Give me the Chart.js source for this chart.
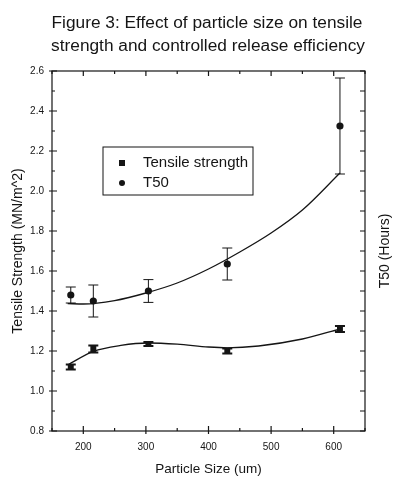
<!DOCTYPE html>
<html>
<head>
<meta charset="utf-8">
<script src="https://cdn.jsdelivr.net/npm/chart.js@4/dist/chart.umd.min.js"></script>
<style>
  html, body { margin: 0; padding: 0; background: #fff; }
  #wrap { width: 396px; height: 480px; }
</style>
</head>
<body>
<div id="wrap"><canvas id="chart" width="396" height="480"></canvas></div>
<script>
// data
const titleLines = ['Figure 3: Effect of particle size on tensile', 'strength and controlled release efficiency'];
const particleSize = [180, 216, 304, 430, 610];
const tensile = [1.12, 1.21, 1.235, 1.20, 1.31];
const tensileErr = [0.012, 0.018, 0.01, 0.012, 0.015];
const t50 = [1.48, 1.45, 1.50, 1.635, 2.325];
const t50Err = [0.04, 0.08, 0.057, 0.08, 0.24];

// fitted curves as drawn in the figure
const tensileFitX = [175, 216, 260, 304, 350, 400, 430, 480, 550, 610];
const tensileFitY = [1.13, 1.198, 1.228, 1.24, 1.234, 1.22, 1.216, 1.225, 1.26, 1.31];
const t50FitX = [175, 200, 250, 300, 350, 400, 450, 500, 550, 610];
const t50FitY = [1.437, 1.435, 1.452, 1.49, 1.54, 1.61, 1.695, 1.79, 1.905, 2.09];

const xTickLabels = [200, 300, 400, 500, 600];
const yTickLabels = ['0.8', '1.0', '1.2', '1.4', '1.6', '1.8', '2.0', '2.2', '2.4', '2.6'];

const INK = '#151515';
const FONT = '"Liberation Sans", Arial, sans-serif';

const toPts = (xs, ys) => xs.map((x, i) => ({ x: x, y: ys[i] }));

// title, frame, inward ticks, right axis title
const framePlugin = {
    id: 'frame',
    afterDraw(chart) {
        const { ctx, chartArea: a } = chart;
        const sx = chart.scales.x, sy = chart.scales.y, sy2 = chart.scales.y2;
        ctx.save();
        ctx.strokeStyle = INK;
        ctx.fillStyle = INK;
        ctx.lineWidth = 1.2;
        ctx.strokeRect(a.left, a.top, a.right - a.left, a.bottom - a.top);

        ctx.beginPath();
        sx.ticks.forEach(t => {
            const px = sx.getPixelForValue(t.value);
            const major = xTickLabels.includes(t.value);
            ctx.moveTo(px, a.bottom + (major ? 3 : 0));
            ctx.lineTo(px, a.bottom - (major ? 5 : 3));
            ctx.moveTo(px, a.top);
            ctx.lineTo(px, a.top + (major ? 5 : 3));
        });
        sy.ticks.forEach(t => {
            const py = sy.getPixelForValue(t.value);
            const major = yTickLabels.includes(t.value.toFixed(1));
            ctx.moveTo(a.left - (major ? 3 : 0), py);
            ctx.lineTo(a.left + (major ? 5 : 3), py);
        });
        sy2.ticks.forEach(t => {
            const py = sy2.getPixelForValue(t.value);
            ctx.moveTo(a.right, py);
            ctx.lineTo(a.right - 5, py);
        });
        ctx.stroke();

        // title
        ctx.font = '17.3px ' + FONT;
        ctx.textAlign = 'center';
        ctx.textBaseline = 'alphabetic';
        ctx.fillText(titleLines[0], 207, 28);
        ctx.fillText(titleLines[1], 208, 51);

        // right axis title, reads bottom to top
        ctx.font = '14px ' + FONT;
        ctx.translate(385, (a.top + a.bottom) / 2);
        ctx.rotate(-Math.PI / 2);
        ctx.textBaseline = 'middle';
        ctx.fillText('T50 (Hours)', 0, 0);
        ctx.restore();
    }
};

// vertical error bars with caps
const errorBarPlugin = {
    id: 'errorBars',
    afterDatasetsDraw(chart) {
        const { ctx } = chart;
        const sx = chart.scales.x, sy = chart.scales.y;
        const draw = (vals, errs, lw) => {
            ctx.lineWidth = lw;
            ctx.beginPath();
            vals.forEach((v, i) => {
                const px = sx.getPixelForValue(particleSize[i]);
                const y1 = sy.getPixelForValue(v - errs[i]);
                const y2 = sy.getPixelForValue(v + errs[i]);
                ctx.moveTo(px, y1);
                ctx.lineTo(px, y2);
                ctx.moveTo(px - 5, y1);
                ctx.lineTo(px + 5, y1);
                ctx.moveTo(px - 5, y2);
                ctx.lineTo(px + 5, y2);
            });
            ctx.stroke();
        };
        ctx.save();
        ctx.strokeStyle = INK;
        draw(t50, t50Err, 1);
        draw(tensile, tensileErr, 2);
        ctx.restore();
    }
};

// boxed legend inside the plot
const boxLegendPlugin = {
    id: 'boxLegend',
    afterDraw(chart) {
        const { ctx } = chart;
        const items = chart.data.datasets.filter(d => !d.showLine);
        ctx.save();
        ctx.strokeStyle = INK;
        ctx.fillStyle = INK;
        ctx.lineWidth = 1;
        ctx.strokeRect(103, 147, 150, 48);
        ctx.font = '15px ' + FONT;
        ctx.textBaseline = 'middle';
        items.forEach((d, i) => {
            const y = 163 + i * 20;
            if (d.pointStyle === 'rect') {
                ctx.fillRect(119, y - 3, 6, 6);
            } else {
                ctx.beginPath();
                ctx.arc(122, y, 3, 0, Math.PI * 2);
                ctx.fill();
            }
            ctx.fillText(d.label, 143, y);
        });
        ctx.restore();
    }
};

new Chart(document.getElementById('chart'), {
    type: 'scatter',
    data: {
        datasets: [
            {
                label: 'Tensile fit',
                data: toPts(tensileFitX, tensileFitY),
                showLine: true,
                borderColor: INK,
                borderWidth: 1.3,
                pointRadius: 0,
                cubicInterpolationMode: 'monotone'
            },
            {
                label: 'T50 fit',
                data: toPts(t50FitX, t50FitY),
                showLine: true,
                borderColor: INK,
                borderWidth: 1.3,
                pointRadius: 0,
                cubicInterpolationMode: 'monotone'
            },
            {
                label: 'Tensile strength',
                data: toPts(particleSize, tensile),
                pointStyle: 'rect',
                pointRadius: 4.2,
                backgroundColor: INK,
                borderColor: INK,
                borderWidth: 0
            },
            {
                label: 'T50',
                data: toPts(particleSize, t50),
                pointStyle: 'circle',
                pointRadius: 3.6,
                backgroundColor: INK,
                borderColor: INK,
                borderWidth: 0
            }
        ]
    },
    options: {
        responsive: false,
        animation: false,
        layout: { padding: { top: 71, left: 0, right: 0, bottom: 0 } },
        plugins: {
            legend: { display: false },
            title: { display: false },
            tooltip: { enabled: false }
        },
        scales: {
            x: {
                type: 'linear',
                min: 150,
                max: 650,
                afterFit(s) { s.height = 49; },
                grid: { display: false, drawTicks: false },
                border: { display: false },
                ticks: {
                    stepSize: 50,
                    autoSkip: false,
                    maxRotation: 0,
                    padding: 10,
                    color: INK,
                    font: { family: FONT, size: 10 },
                    callback: v => xTickLabels.includes(v) ? String(v) : ''
                },
                title: {
                    display: true,
                    text: 'Particle Size (um)',
                    color: INK,
                    font: { family: FONT, size: 13.5 },
                    padding: { top: 0, bottom: 3 }
                }
            },
            y: {
                position: 'left',
                min: 0.8,
                max: 2.6,
                afterFit(s) { s.width = 52; },
                grid: { display: false, drawTicks: false },
                border: { display: false },
                ticks: {
                    stepSize: 0.1,
                    autoSkip: false,
                    padding: 8,
                    color: INK,
                    font: { family: FONT, size: 10 },
                    callback: v => {
                        const s = v.toFixed(1);
                        return yTickLabels.includes(s) ? s : '';
                    }
                },
                title: {
                    display: true,
                    text: 'Tensile Strength (MN/m^2)',
                    color: INK,
                    font: { family: FONT, size: 14 },
                    padding: { top: 10, bottom: 0 }
                }
            },
            y2: {
                position: 'right',
                min: 0.8,
                max: 2.6,
                afterFit(s) { s.width = 31; },
                grid: { display: false, drawTicks: false },
                border: { display: false },
                ticks: { stepSize: 0.1, autoSkip: false, display: false }
            }
        }
    },
    plugins: [errorBarPlugin, framePlugin, boxLegendPlugin]
});
</script>
</body>
</html>
